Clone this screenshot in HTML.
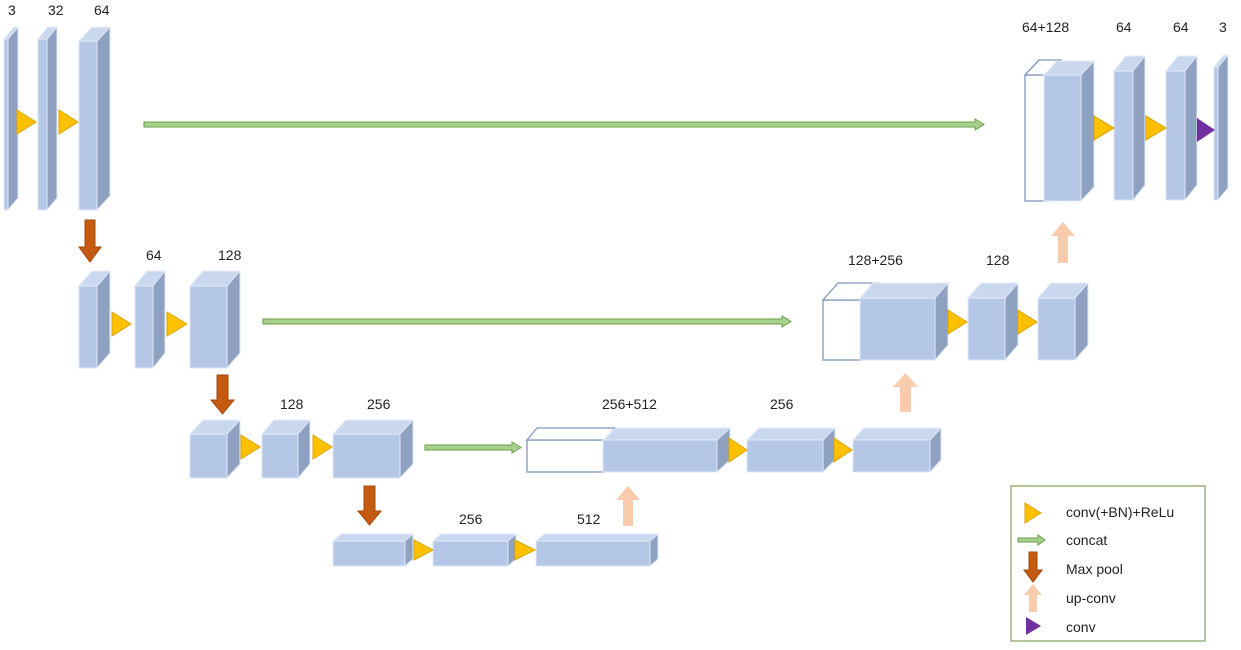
<!DOCTYPE html>
<html><head><meta charset="utf-8"><style>
html,body{margin:0;padding:0;background:#fff}
svg{display:block}
text{font-family:"Liberation Sans",sans-serif;font-size:14px;fill:#222}
.f{fill:#b4c7e7;stroke:#dfe7f5;stroke-width:1}
.t{fill:#c9d7ef;stroke:#e4ebf7;stroke-width:1}
.s{fill:#8fa1c1;stroke:#dfe7f5;stroke-width:1}
.o{fill:#fff;stroke:#7f96bd;stroke-width:1.3}
.y{fill:#ffc000;stroke:#d9a400;stroke-width:1}
.p{fill:#7030a0}
.g{fill:#a9d18e;stroke:#6aa046;stroke-width:1}
.r{fill:#c55a11;stroke:#a4480c;stroke-width:1}
.u{fill:#f8cbad}
</style></head><body>
<svg width="1241" height="650" viewBox="0 0 1241 650" xmlns="http://www.w3.org/2000/svg">
<!-- labels -->
<text x="8" y="15">3</text><text x="48" y="15">32</text><text x="94" y="15">64</text>
<text x="146" y="260">64</text><text x="218" y="260">128</text>
<text x="280" y="409">128</text><text x="367" y="409">256</text>
<text x="459" y="524">256</text><text x="577" y="524">512</text>
<text x="602" y="409">256+512</text><text x="770" y="409">256</text>
<text x="848" y="265">128+256</text><text x="986" y="265">128</text>
<text x="1022" y="32">64+128</text><text x="1116" y="32">64</text><text x="1173" y="32">64</text><text x="1219" y="32">3</text>

<!-- boxes -->
<g>
<rect class="f" x="4" y="39" width="4" height="171"/><polygon class="t" points="4,39 14,27 18,27 8,39"/><polygon class="s" points="8,39 18,27 18,198 8,210"/>
<rect class="f" x="38" y="39" width="9" height="171"/><polygon class="t" points="38,39 48,27 57,27 47,39"/><polygon class="s" points="47,39 57,27 57,198 47,210"/>
<rect class="f" x="79" y="41" width="18" height="169"/><polygon class="t" points="79,41 92,27 110,27 97,41"/><polygon class="s" points="97,41 110,27 110,196 97,210"/>

<rect class="f" x="79" y="286" width="18" height="82"/><polygon class="t" points="79,286 92,271 110,271 97,286"/><polygon class="s" points="97,286 110,271 110,353 97,368"/>
<rect class="f" x="135" y="286" width="18" height="82"/><polygon class="t" points="135,286 147,271 165,271 153,286"/><polygon class="s" points="153,286 165,271 165,353 153,368"/>
<rect class="f" x="190" y="286" width="37" height="82"/><polygon class="t" points="190,286 203,271 240,271 227,286"/><polygon class="s" points="227,286 240,271 240,353 227,368"/>

<rect class="f" x="190" y="434" width="37" height="44"/><polygon class="t" points="190,434 203,420 240,420 227,434"/><polygon class="s" points="227,434 240,420 240,464 227,478"/>
<rect class="f" x="262" y="434" width="36" height="44"/><polygon class="t" points="262,434 274,420 310,420 298,434"/><polygon class="s" points="298,434 310,420 310,464 298,478"/>
<rect class="f" x="333" y="434" width="67" height="44"/><polygon class="t" points="333,434 346,420 413,420 400,434"/><polygon class="s" points="400,434 413,420 413,464 400,478"/>

<rect class="f" x="333" y="541" width="72" height="25"/><polygon class="t" points="333,541 341,534 413,534 405,541"/><polygon class="s" points="405,541 413,534 413,559 405,566"/>
<rect class="f" x="433" y="541" width="75" height="25"/><polygon class="t" points="433,541 441,534 516,534 508,541"/><polygon class="s" points="508,541 516,534 516,559 508,566"/>
<rect class="f" x="536" y="541" width="114" height="25"/><polygon class="t" points="536,541 544,534 658,534 650,541"/><polygon class="s" points="650,541 658,534 658,559 650,566"/>

<rect class="o" x="527" y="440" width="78" height="32"/><polygon class="o" points="527,440 537,428 615,428 605,440"/>
<rect class="f" x="603" y="440" width="114" height="32"/><polygon class="t" points="603,440 616,428 730,428 717,440"/><polygon class="s" points="717,440 730,428 730,460 717,472"/>
<rect class="f" x="747" y="440" width="76" height="32"/><polygon class="t" points="747,440 759,428 835,428 823,440"/><polygon class="s" points="823,440 835,428 835,460 823,472"/>
<rect class="f" x="853" y="440" width="77" height="32"/><polygon class="t" points="853,440 864,428 941,428 930,440"/><polygon class="s" points="930,440 941,428 941,460 930,472"/>

<rect class="o" x="823" y="300" width="40" height="60"/><polygon class="o" points="823,300 838,283 878,283 863,300"/>
<rect class="f" x="860" y="298" width="75" height="62"/><polygon class="t" points="860,298 873,283 948,283 935,298"/><polygon class="s" points="935,298 948,283 948,345 935,360"/>
<rect class="f" x="968" y="298" width="37" height="62"/><polygon class="t" points="968,298 981,283 1018,283 1005,298"/><polygon class="s" points="1005,298 1018,283 1018,345 1005,360"/>
<rect class="f" x="1038" y="298" width="37" height="62"/><polygon class="t" points="1038,298 1051,283 1088,283 1075,298"/><polygon class="s" points="1075,298 1088,283 1088,345 1075,360"/>

<rect class="o" x="1025" y="75" width="22" height="126"/><polygon class="o" points="1025,75 1039,60 1061,60 1047,75"/>
<rect class="f" x="1044" y="75" width="37" height="126"/><polygon class="t" points="1044,75 1057,61 1094,61 1081,75"/><polygon class="s" points="1081,75 1094,61 1094,187 1081,201"/>
<rect class="f" x="1114" y="71" width="19" height="129"/><polygon class="t" points="1114,71 1126,56 1145,56 1133,71"/><polygon class="s" points="1133,71 1145,56 1145,185 1133,200"/>
<rect class="f" x="1166" y="71" width="19" height="129"/><polygon class="t" points="1166,71 1178,56 1197,56 1185,71"/><polygon class="s" points="1185,71 1197,56 1197,185 1185,200"/>
<rect class="f" x="1214" y="67" width="4" height="133"/><polygon class="t" points="1214,67 1224,55 1228,55 1218,67"/><polygon class="s" points="1218,67 1228,55 1228,188 1218,200"/>
</g>

<!-- conv triangles -->
<polygon class="y" points="17,110 36,122 17,134"/>
<polygon class="y" points="59,110 78,122 59,134"/>
<polygon class="y" points="112,312 131,324 112,336"/>
<polygon class="y" points="167,312 187,324 167,336"/>
<polygon class="y" points="241,435 260,447 241,459"/>
<polygon class="y" points="313,435 332,447 313,459"/>
<polygon class="y" points="414,540 433,550 414,560"/>
<polygon class="y" points="515,540 535,550 515,560"/>
<polygon class="y" points="729,438 747,450 729,462"/>
<polygon class="y" points="834,438 852,450 834,462"/>
<polygon class="y" points="948,310 967,322 948,334"/>
<polygon class="y" points="1018,310 1037,322 1018,334"/>
<polygon class="y" points="1094,116 1114,128 1094,140"/>
<polygon class="y" points="1146,116 1166,128 1146,140"/>
<polygon class="p" points="1197,118 1215,130 1197,142"/>

<!-- concat arrows -->
<polygon class="g" points="144,122 975,122 975,119 984,124.5 975,130 975,127 144,127"/>
<polygon class="g" points="263,319 782,319 782,316 791,321.5 782,327 782,324 263,324"/>
<polygon class="g" points="425,445 512,445 512,442 521,447.5 512,453 512,450 425,450"/>

<!-- max pool -->
<polygon class="r" points="85,220 95,220 95,247 101,247 90,262 79,247 85,247"/>
<polygon class="r" points="217,375 228,375 228,400 234,400 222.5,414 211,400 217,400"/>
<polygon class="r" points="364,486 375,486 375,511 381,511 369.5,525 358,511 364,511"/>

<!-- up-conv -->
<polygon class="u" points="623,526 633,526 633,500 640,500 628,486 616,500 623,500"/>
<polygon class="u" points="900,412 911,412 911,387 918,387 905.5,373 893,387 900,387"/>
<polygon class="u" points="1058,263 1068,263 1068,236 1075,236 1063,222 1051,236 1058,236"/>

<!-- legend -->
<rect x="1011" y="486" width="194" height="155" fill="#fff" stroke="#6b8e3a" stroke-width="1"/>
<polygon class="y" points="1025,503 1041,513 1025,523"/>
<text x="1066" y="517">conv(+BN)+ReLu</text>
<polygon class="g" points="1018,538 1038,538 1038,535 1045,540 1038,545 1038,542 1018,542"/>
<text x="1066" y="545">concat</text>
<polygon class="r" points="1029,552 1037,552 1037,570 1042,570 1033,582 1024,570 1029,570"/>
<text x="1066" y="574">Max pool</text>
<polygon class="u" points="1029,612 1037,612 1037,595 1042,595 1033,584 1024,595 1029,595"/>
<text x="1066" y="603">up-conv</text>
<polygon class="p" points="1026,617 1041,626 1026,635"/>
<text x="1066" y="632">conv</text>
</svg>
</body></html>
